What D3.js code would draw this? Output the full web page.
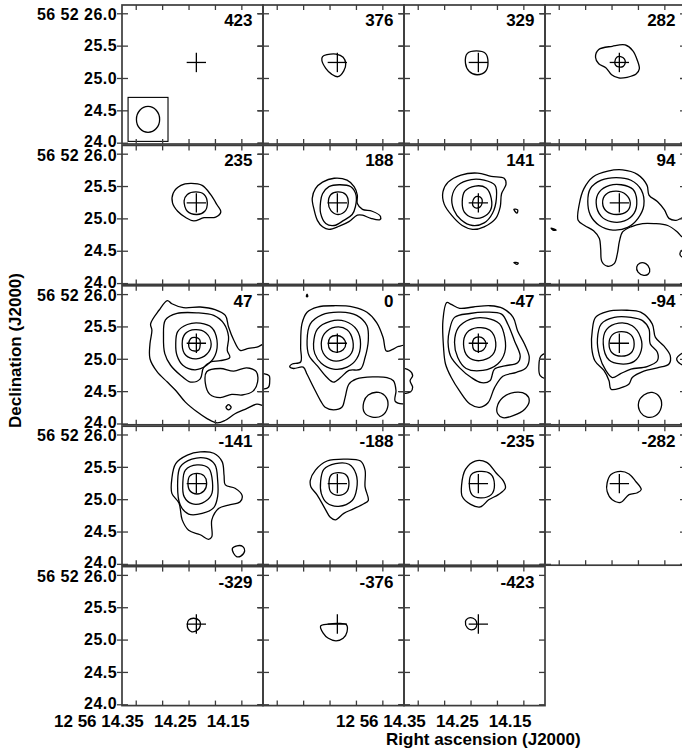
<!DOCTYPE html>
<html>
<head>
<meta charset="utf-8">
<script src="https://cdn.jsdelivr.net/npm/d3@7"></script>
<style>
  body { margin: 0; background: #fff; }
  text { font-family: "Liberation Sans", Arial, Helvetica, sans-serif; font-weight: bold; fill: #000; }
</style>
</head>
<body>
<svg id="chart" width="682" height="753"></svg>
<script>
// Velocity channels (km/s), in plotting order, four per row
const channels = [423, 376, 329, 282, 235, 188, 141, 94, 47, 0, -47, -94, -141, -188, -235, -282, -329, -376, -423];

// Axis ticks: Dec in arcsec of 56 52, RA in seconds of 12 56
const decTicks = [24.0, 24.5, 25.0, 25.5, 26.0];
const raTicks = [14.325, 14.275, 14.225, 14.175, 14.125];
const raLabels = [14.35, 14.25, 14.15];
const raPrefix = "12 56";
const decPrefix = "56 52 ";

// Source (cross) position and synthesized beam
const source = { ra: 14.2102, dec: 25.240 };
const decDegrees = 56.874;
const crossHalf = 0.15;                       // arcsec
const beam = { dx: -0.75, dy: -0.88, minor: 0.36, major: 0.40 };
const beamBox = [0.62, 0.68];                 // arcsec

// Contour rings per channel, offsets from the source in arcsec [west, north]
const c423 = [];
const c376 = [
  [[-0.16,0.12],[-0.02,0.13],[0.09,0.08],[0.13,-0.02],[0.10,-0.13],[0.01,-0.22],[-0.09,-0.18],[-0.18,-0.09],[-0.24,0.03],[-0.23,0.09]]
];
const c329 = [
  [[-0.17,0.14],[-0.03,0.18],[0.11,0.14],[0.15,-0.01],[0.11,-0.14],[-0.02,-0.19],[-0.14,-0.14],[-0.20,-0.01]]
];
const c282 = [
  [[-0.07,0.01],[-0.04,0.08],[0.02,0.09],[0.08,0.05],[0.09,-0.01],[0.06,-0.06],[-0.01,-0.07],[-0.06,-0.04]],
  [[-0.32,0.20],[-0.11,0.25],[0.09,0.27],[0.21,0.18],[0.28,0.03],[0.31,-0.10],[0.26,-0.18],[0.12,-0.23],[-0.01,-0.24],[-0.12,-0.19],[-0.21,-0.08],[-0.32,-0.02],[-0.37,0.08]]
];
const c235 = [
  [[-0.19,0.03],[-0.14,0.13],[-0.01,0.17],[0.12,0.13],[0.17,0],[0.13,-0.13],[0.01,-0.18],[-0.14,-0.13]],
  [[-0.36,0.15],[-0.24,0.27],[-0.09,0.30],[0.09,0.27],[0.22,0.13],[0.32,-0.03],[0.38,-0.14],[0.30,-0.22],[0.12,-0.23],[-0.04,-0.28],[-0.16,-0.23],[-0.29,-0.13],[-0.37,0]]
];
const c188 = [
  [[-0.14,0],[-0.10,0.13],[0.01,0.17],[0.13,0.13],[0.17,0],[0.13,-0.12],[0.01,-0.18],[-0.10,-0.12]],
  [[-0.23,0.14],[-0.13,0.25],[0.03,0.28],[0.21,0.25],[0.29,0.12],[0.28,-0.06],[0.23,-0.18],[0.10,-0.27],[-0.05,-0.35],[-0.18,-0.32],[-0.26,-0.16],[-0.26,0.02]],
  [[-0.34,0.22],[-0.23,0.32],[-0.05,0.38],[0.15,0.35],[0.26,0.25],[0.31,0.12],[0.31,-0.01],[0.39,-0.10],[0.54,-0.13],[0.67,-0.21],[0.66,-0.26],[0.52,-0.24],[0.39,-0.19],[0.31,-0.19],[0.18,-0.29],[0.03,-0.36],[-0.13,-0.41],[-0.23,-0.37],[-0.31,-0.27],[-0.36,-0.11],[-0.39,0.07]]
];
const c141 = [
  [[-0.09,0.01],[-0.06,0.08],[-0.01,0.10],[0.05,0.07],[0.06,0.01],[0.03,-0.06],[-0.03,-0.08],[-0.08,-0.05]],
  [[-0.25,0.02],[-0.21,0.18],[-0.05,0.26],[0.12,0.23],[0.20,0.07],[0.19,-0.11],[0.07,-0.22],[-0.09,-0.23],[-0.22,-0.14]],
  [[-0.41,0.09],[-0.32,0.27],[-0.11,0.36],[0.09,0.35],[0.26,0.27],[0.28,0.07],[0.22,-0.16],[0.09,-0.31],[-0.09,-0.35],[-0.27,-0.26],[-0.38,-0.11]],
  [[-0.47,0.32],[-0.27,0.43],[-0.01,0.46],[0.20,0.41],[0.40,0.38],[0.43,0.29],[0.36,0.14],[0.34,-0.06],[0.27,-0.24],[0.09,-0.37],[-0.09,-0.41],[-0.25,-0.35],[-0.40,-0.21],[-0.53,-0.02],[-0.55,0.17]],
  [[0.55,-0.10],[0.61,-0.11],[0.60,-0.16]],
  [[0.55,-0.92],[0.62,-0.93],[0.60,-0.95]]
];
const c94 = [
  [[-0.26,0],[-0.21,0.13],[-0.05,0.18],[0.10,0.13],[0.17,0],[0.12,-0.13],[-0.04,-0.18],[-0.20,-0.13]],
  [[-0.36,0],[-0.31,0.17],[-0.15,0.27],[0.03,0.28],[0.21,0.21],[0.27,0.04],[0.23,-0.16],[0.08,-0.28],[-0.13,-0.29],[-0.28,-0.21]],
  [[-0.49,0.02],[-0.45,0.22],[-0.28,0.35],[-0.05,0.39],[0.18,0.35],[0.34,0.20],[0.38,-0.04],[0.29,-0.24],[0.13,-0.38],[-0.10,-0.42],[-0.31,-0.35],[-0.45,-0.19]],
  [[-0.64,-0.27],[-0.62,-0.01],[-0.55,0.22],[-0.41,0.40],[-0.18,0.49],[0.05,0.51],[0.28,0.44],[0.43,0.27],[0.46,0.12],[0.59,0.02],[0.70,-0.11],[0.77,-0.24],[0.88,-0.27],[0.98,-0.23],[1.16,-0.19],[1.16,-0.58],[0.98,-0.53],[0.90,-0.45],[0.75,-0.35],[0.54,-0.32],[0.36,-0.32],[0.18,-0.37],[0.05,-0.45],[0,-0.60],[-0.03,-0.78],[-0.08,-0.94],[-0.18,-0.98],[-0.27,-0.91],[-0.29,-0.71],[-0.31,-0.55],[-0.40,-0.43],[-0.54,-0.35]],
  [[0.27,-0.99],[0.32,-0.93],[0.41,-0.94],[0.47,-1.02],[0.45,-1.10],[0.38,-1.12],[0.29,-1.07]],
  [[0.98,-0.73],[0.94,-0.79],[0.98,-0.84],[1.19,-0.77]],
  [[-1.06,-0.39],[-0.98,-0.42],[-1.03,-0.42]]
];
const c47 = [
  [[-0.12,-0.02],[-0.09,0.07],[-0.03,0.09],[0.05,0.06],[0.06,-0.02],[0.04,-0.10],[-0.03,-0.12],[-0.10,-0.09]],
  [[-0.22,-0.01],[-0.17,0.15],[-0.02,0.21],[0.15,0.16],[0.23,-0.01],[0.16,-0.17],[0,-0.24],[-0.16,-0.19]],
  [[-0.32,-0.01],[-0.29,0.18],[-0.14,0.29],[0.06,0.31],[0.24,0.24],[0.32,0.05],[0.29,-0.19],[0.16,-0.34],[-0.02,-0.41],[-0.21,-0.34],[-0.30,-0.19]],
  [[-0.51,0.10],[-0.48,0.36],[-0.30,0.46],[0.01,0.47],[0.27,0.43],[0.43,0.30],[0.50,0.10],[0.48,-0.11],[0.52,-0.22],[0.37,-0.27],[0.22,-0.29],[0.11,-0.38],[0.06,-0.55],[-0.09,-0.60],[-0.25,-0.49],[-0.40,-0.34],[-0.49,-0.16]],
  [[-0.71,0.30],[-0.58,0.51],[-0.45,0.66],[-0.38,0.61],[-0.20,0.55],[0.06,0.56],[0.29,0.52],[0.45,0.43],[0.50,0.25],[0.58,0.05],[0.68,-0.11],[0.81,-0.08],[0.94,-0.06],[1.09,-0.01],[1.09,-0.96],[0.94,-0.94],[0.78,-1.01],[0.60,-1.09],[0.45,-1.19],[0.32,-1.23],[0.16,-1.16],[0.01,-1.06],[-0.17,-0.91],[-0.32,-0.73],[-0.45,-0.60],[-0.61,-0.44],[-0.72,-0.24],[-0.72,-0.01],[-0.69,0.20]],
  [[0.16,-0.44],[0.37,-0.39],[0.58,-0.43],[0.78,-0.38],[0.93,-0.44],[0.95,-0.60],[0.88,-0.74],[0.71,-0.80],[0.55,-0.79],[0.37,-0.84],[0.21,-0.79],[0.14,-0.62]],
  [[0.46,-0.99],[0.50,-0.95],[0.54,-0.99],[0.50,-1.03]]
];
const c0 = [
  [[-0.14,-0.01],[-0.11,0.09],[-0.02,0.12],[0.08,0.09],[0.13,-0.01],[0.09,-0.10],[-0.01,-0.14],[-0.11,-0.10]],
  [[-0.25,-0.01],[-0.20,0.15],[-0.03,0.25],[0.15,0.21],[0.24,0.04],[0.22,-0.15],[0.07,-0.26],[-0.10,-0.26],[-0.22,-0.15]],
  [[-0.37,-0.01],[-0.31,0.22],[-0.11,0.34],[0.12,0.34],[0.30,0.21],[0.36,-0.01],[0.30,-0.24],[0.15,-0.37],[-0.06,-0.40],[-0.25,-0.31],[-0.35,-0.16]],
  [[-0.47,0.04],[-0.42,0.30],[-0.24,0.44],[0.05,0.48],[0.30,0.43],[0.46,0.27],[0.48,0.04],[0.43,-0.22],[0.36,-0.40],[0.18,-0.42],[0.05,-0.53],[-0.06,-0.60],[-0.16,-0.53],[-0.31,-0.35],[-0.44,-0.19]],
  [[-0.57,-0.29],[-0.70,-0.32],[-0.74,-0.36],[-0.68,-0.39],[-0.53,-0.37],[-0.47,-0.48],[-0.37,-0.68],[-0.26,-0.89],[-0.19,-0.99],[-0.06,-1.03],[0.07,-0.99],[0.12,-0.84],[0.18,-0.63],[0.30,-0.55],[0.56,-0.52],[0.77,-0.53],[0.87,-0.58],[0.91,-0.73],[0.90,-0.90],[1.13,-0.91],[1.13,-0.04],[0.95,-0.05],[0.85,-0.10],[0.76,-0.12],[0.71,0.09],[0.61,0.32],[0.46,0.48],[0.25,0.56],[-0.06,0.58],[-0.31,0.56],[-0.47,0.48],[-0.55,0.30],[-0.57,-0.06]],
  [[0.41,-0.91],[0.48,-0.80],[0.64,-0.76],[0.76,-0.84],[0.78,-0.99],[0.69,-1.12],[0.54,-1.14],[0.42,-1.07]],
  [[-0.47,0.76],[-0.46,0.72],[-0.48,0.72]],
  [[-1.20,-0.48],[-1.06,-0.50],[-1.05,-0.58],[-1.07,-0.68],[-1.20,-0.70]]
];
const cm47 = [
  [[-0.09,-0.02],[-0.07,0.07],[0.01,0.10],[0.08,0.07],[0.12,-0.02],[0.08,-0.10],[0.01,-0.13],[-0.07,-0.10]],
  [[-0.23,-0.02],[-0.18,0.16],[-0.01,0.24],[0.18,0.20],[0.27,0.01],[0.22,-0.18],[0.02,-0.27],[-0.16,-0.21]],
  [[-0.37,0.01],[-0.31,0.24],[-0.13,0.37],[0.12,0.39],[0.33,0.30],[0.41,0.09],[0.41,-0.14],[0.30,-0.32],[0.07,-0.42],[-0.19,-0.39],[-0.32,-0.22]],
  [[-0.45,0.19],[-0.37,0.40],[-0.13,0.46],[0.12,0.48],[0.36,0.45],[0.46,0.29],[0.56,0.04],[0.65,-0.20],[0.61,-0.30],[0.41,-0.35],[0.25,-0.40],[0.18,-0.58],[0.05,-0.61],[-0.11,-0.53],[-0.29,-0.38],[-0.43,-0.20],[-0.47,0.01]],
  [[-0.49,0.63],[-0.42,0.60],[-0.29,0.54],[-0.08,0.56],[0.18,0.58],[0.38,0.54],[0.54,0.40],[0.61,0.19],[0.72,-0.02],[0.79,-0.22],[0.74,-0.38],[0.59,-0.45],[0.38,-0.51],[0.25,-0.69],[0.15,-0.92],[0.02,-0.99],[-0.13,-0.94],[-0.29,-0.74],[-0.42,-0.53],[-0.51,-0.32],[-0.54,-0.07],[-0.55,0.35]],
  [[0.29,-0.99],[0.38,-0.84],[0.56,-0.76],[0.74,-0.79],[0.79,-0.89],[0.72,-1.02],[0.54,-1.12],[0.38,-1.15],[0.30,-1.09]],
  [[1.10,-0.15],[0.97,-0.20],[0.94,-0.35],[0.96,-0.50],[1.10,-0.55]],
  [[-1.20,-0.40],[-1.07,-0.42],[-1.02,-0.50],[-1.06,-0.58],[-1.02,-0.68],[-1.05,-0.75],[-1.20,-0.76]]
];
const cm94 = [
  [[-0.16,-0.01],[-0.11,0.13],[0.03,0.18],[0.18,0.13],[0.23,-0.01],[0.18,-0.15],[0.03,-0.20],[-0.11,-0.15]],
  [[-0.25,-0.01],[-0.20,0.21],[-0.01,0.31],[0.20,0.27],[0.33,0.09],[0.34,-0.11],[0.23,-0.28],[0.02,-0.32],[-0.16,-0.26]],
  [[-0.34,0.07],[-0.28,0.30],[-0.08,0.40],[0.18,0.40],[0.36,0.35],[0.46,0.22],[0.48,-0.01],[0.59,-0.14],[0.59,-0.27],[0.43,-0.36],[0.18,-0.40],[0.02,-0.47],[-0.11,-0.53],[-0.21,-0.42],[-0.31,-0.19]],
  [[-0.42,0.20],[-0.37,0.40],[-0.19,0.49],[0.12,0.51],[0.33,0.48],[0.51,0.30],[0.56,0.09],[0.69,-0.04],[0.79,-0.19],[0.77,-0.32],[0.59,-0.38],[0.38,-0.43],[0.20,-0.53],[0.15,-0.63],[0.02,-0.69],[-0.13,-0.71],[-0.16,-0.58],[-0.24,-0.42],[-0.38,-0.27],[-0.43,-0.06]],
  [[0.30,-0.91],[0.38,-0.80],[0.51,-0.76],[0.63,-0.84],[0.65,-0.99],[0.56,-1.12],[0.43,-1.14],[0.33,-1.07]],
  [[1.10,-0.10],[0.95,-0.17],[0.89,-0.24],[0.95,-0.32],[1.10,-0.36]]
];
const cm141 = [
  [[-0.13,0.01],[-0.10,0.12],[0.01,0.16],[0.12,0.12],[0.16,0.01],[0.12,-0.11],[0.01,-0.16],[-0.10,-0.11]],
  [[-0.21,0.01],[-0.17,0.21],[0.01,0.29],[0.19,0.24],[0.25,0.03],[0.23,-0.18],[0.09,-0.30],[-0.07,-0.31],[-0.19,-0.20]],
  [[-0.29,0.03],[-0.25,0.26],[-0.07,0.38],[0.16,0.39],[0.29,0.29],[0.33,0.06],[0.33,-0.20],[0.27,-0.37],[0.09,-0.46],[-0.12,-0.47],[-0.25,-0.33]],
  [[-0.38,0.08],[-0.32,0.31],[-0.14,0.44],[0.06,0.49],[0.27,0.47],[0.40,0.34],[0.43,0.13],[0.45,-0.02],[0.60,-0.07],[0.71,-0.18],[0.68,-0.28],[0.50,-0.33],[0.35,-0.38],[0.24,-0.56],[0.24,-0.82],[0.19,-0.86],[0.06,-0.79],[-0.12,-0.72],[-0.22,-0.56],[-0.27,-0.30],[-0.38,-0.15]],
  [[0.56,-1.00],[0.63,-0.96],[0.72,-0.97],[0.75,-1.04],[0.69,-1.12],[0.63,-1.13],[0.58,-1.08]]
];
const cm188 = [
  [[-0.13,0],[-0.10,0.13],[0.02,0.17],[0.14,0.13],[0.18,0],[0.14,-0.13],[0.02,-0.18],[-0.10,-0.13]],
  [[-0.26,0.03],[-0.21,0.22],[-0.03,0.31],[0.18,0.30],[0.29,0.15],[0.30,-0.08],[0.23,-0.26],[0.02,-0.35],[-0.16,-0.30],[-0.25,-0.15]],
  [[-0.42,0.05],[-0.34,0.21],[-0.16,0.35],[0.10,0.38],[0.36,0.35],[0.43,0.21],[0.43,-0.05],[0.48,-0.26],[0.41,-0.31],[0.25,-0.39],[0.10,-0.46],[-0.03,-0.56],[-0.11,-0.52],[-0.19,-0.39],[-0.31,-0.18],[-0.41,-0.05]]
];
const cm235 = [
  [[-0.14,0.01],[-0.11,0.14],[0.02,0.19],[0.19,0.15],[0.25,-0.02],[0.20,-0.17],[0.03,-0.22],[-0.10,-0.17]],
  [[-0.26,-0.02],[-0.20,0.22],[-0.05,0.35],[0.13,0.33],[0.28,0.16],[0.39,0.04],[0.42,-0.07],[0.31,-0.17],[0.16,-0.25],[0.03,-0.36],[-0.12,-0.32],[-0.25,-0.20]]
];
const cm282 = [
  [[-0.19,0.01],[-0.13,0.14],[0.02,0.19],[0.15,0.15],[0.25,0.04],[0.34,-0.09],[0.28,-0.14],[0.15,-0.17],[0.02,-0.29],[-0.11,-0.25],[-0.19,-0.12]]
];
const cm329 = [
  [[-0.14,0],[-0.12,0.06],[-0.04,0.09],[0.05,0.05],[0.06,-0.03],[0.02,-0.09],[-0.07,-0.12],[-0.13,-0.07]]
];
const cm376 = [
  [[-0.26,-0.03],[-0.14,0],[0.02,0.01],[0.14,-0.01],[0.15,-0.12],[0.09,-0.22],[-0.02,-0.26],[-0.14,-0.22],[-0.22,-0.14]]
];
const cm423 = [
  [[-0.20,0.04],[-0.16,0.09],[-0.08,0.09],[-0.03,0.04],[-0.04,-0.06],[-0.11,-0.09],[-0.17,-0.06]]
];

const contourSets = new Map([
  [423, c423], [376, c376], [329, c329], [282, c282],
  [235, c235], [188, c188], [141, c141], [94, c94],
  [47, c47], [0, c0], [-47, cm47], [-94, cm94],
  [-141, cm141], [-188, cm188], [-235, cm235], [-282, cm282],
  [-329, cm329], [-376, cm376], [-423, cm423]
]);

// ---- layout ----
const margin = { left: 122, top: 5 };
const panelW = 141, rowStep = 140.4, frameH = 139;
const ink = "#000", frameInk = "#3c3c3c";

const svg = d3.select("#chart");

// RA runs right-to-left (east to the left)
const x = d3.scaleLinear().domain([14.351, 14.084]).range([0, panelW]);
const y = d3.scaleLinear().domain([23.958, 26.128]).range([rowStep, 0]);

const raPerArcsec = 1 / (15 * Math.cos(decDegrees * Math.PI / 180));
const ox = d => x(source.ra - d[0] * raPerArcsec);
const oy = d => y(source.dec + d[1]);

const ring = d3.line().x(ox).y(oy).curve(d3.curveCatmullRomClosed.alpha(0.5));

function ticks(g, axis, dx, dy) {
  g.append("g")
    .attr("transform", `translate(${dx},${dy})`)
    .call(axis)
    .call(a => a.select(".domain").remove())
    .call(a => a.selectAll(".tick line").attr("stroke", frameInk).attr("stroke-width", 1.3));
}

channels.forEach((v, i) => {
  const col = i % 4, row = Math.floor(i / 4);
  const g = svg.append("g")
    .attr("transform", `translate(${margin.left + col * panelW},${margin.top + row * rowStep})`);

  const clipId = "panel-clip-" + i;
  g.append("clipPath").attr("id", clipId)
    .append("rect").attr("width", panelW).attr("height", frameH);

  const body = g.append("g").attr("clip-path", `url(#${clipId})`);

  body.selectAll("path.contour")
    .data(contourSets.get(v))
    .join("path")
    .attr("class", "contour")
    .attr("d", ring)
    .attr("fill", "none")
    .attr("stroke", ink)
    .attr("stroke-width", 1.3)
    .attr("stroke-linejoin", "round");

  // source position cross
  body.append("line")
    .attr("x1", ox([-crossHalf, 0])).attr("x2", ox([crossHalf, 0]))
    .attr("y1", oy([0, 0])).attr("y2", oy([0, 0]))
    .attr("stroke", ink).attr("stroke-width", 1.3);
  body.append("line")
    .attr("x1", ox([0, 0])).attr("x2", ox([0, 0]))
    .attr("y1", oy([0, -crossHalf])).attr("y2", oy([0, crossHalf]))
    .attr("stroke", ink).attr("stroke-width", 1.3);

  // beam in the first channel
  if (i === 0) {
    const bc = [beam.dx, beam.dy];
    const rx = Math.abs(ox([beam.dx + beam.minor / 2, 0]) - ox([beam.dx, 0]));
    const ry = Math.abs(oy([0, beam.major / 2]) - oy([0, 0]));
    const bx0 = ox([beam.dx - beamBox[0] / 2, 0]), bx1 = ox([beam.dx + beamBox[0] / 2, 0]);
    const by0 = oy([0, beam.dy + beamBox[1] / 2]), by1 = oy([0, beam.dy - beamBox[1] / 2]);
    body.append("rect")
      .attr("x", bx0).attr("y", by0).attr("width", bx1 - bx0).attr("height", by1 - by0)
      .attr("fill", "none").attr("stroke", ink).attr("stroke-width", 1.1);
    body.append("ellipse")
      .attr("cx", ox(bc)).attr("cy", oy(bc)).attr("rx", rx).attr("ry", ry)
      .attr("fill", "none").attr("stroke", ink).attr("stroke-width", 1.3);
  }

  // frame
  g.append("rect")
    .attr("width", panelW).attr("height", frameH)
    .attr("fill", "none").attr("stroke", frameInk).attr("stroke-width", 1.7);

  // inward ticks on every side, left ticks also poke outward
  ticks(g, d3.axisTop(x).tickValues(raTicks).tickSizeInner(-5).tickSizeOuter(0).tickFormat(""), 0, 0);
  ticks(g, d3.axisBottom(x).tickValues(raTicks).tickSizeInner(-5).tickSizeOuter(0).tickFormat(""), 0, frameH);
  ticks(g, d3.axisLeft(y).tickValues(decTicks).tickSizeInner(-6).tickSizeOuter(0).tickFormat(""), 0, 0);
  ticks(g, d3.axisLeft(y).tickValues(decTicks).tickSizeInner(5).tickSizeOuter(0).tickFormat(""), 0, 0);
  ticks(g, d3.axisRight(y).tickValues(decTicks).tickSizeInner(-6).tickSizeOuter(0).tickFormat(""), panelW, 0);

  // channel velocity
  g.append("text")
    .attr("x", panelW - 10.5).attr("y", 21)
    .attr("text-anchor", "end")
    .attr("font-size", 17)
    .text(v);

  // declination labels on the first column; the end labels lean away
  // from each other so adjacent rows' 24.0 and 26.0 stay readable
  if (col === 0) {
    g.selectAll("text.dec")
      .data(decTicks)
      .join("text")
      .attr("class", "dec")
      .attr("x", -5)
      .attr("y", d => y(d) + (d === 24.0 ? -1.2 : d === 26.0 ? 1.2 : 0))
      .attr("dy", "0.36em")
      .attr("text-anchor", "end")
      .attr("font-size", 16)
      .attr("letter-spacing", 0.45)
      .style("white-space", "pre")
      .text(d => (d === 26.0 ? decPrefix : "") + d.toFixed(1));
  }

  // right ascension labels under the bottom row (first and third columns)
  if (row === 4 && (col === 0 || col === 2)) {
    raLabels.forEach((r, k) => {
      const t = g.append("text")
        .attr("x", x(r)).attr("y", frameH + 21)
        .attr("text-anchor", "middle")
        .attr("font-size", 17)
        .text(r.toFixed(2));
      if (k === 0) {
        const w = t.node().getComputedTextLength();
        g.append("text")
          .attr("x", x(r) - w / 2 - 4.7).attr("y", frameH + 21)
          .attr("text-anchor", "end")
          .attr("font-size", 17)
          .text(raPrefix);
      }
    });
  }
});

// axis titles
svg.append("text")
  .attr("x", 386).attr("y", 745)
  .attr("font-size", 17)
  .text("Right ascension (J2000)");

svg.append("text")
  .attr("transform", "translate(21,350.5) rotate(-90)")
  .attr("text-anchor", "middle")
  .attr("font-size", 17)
  .text("Declination (J2000)");
</script>
</body>
</html>
